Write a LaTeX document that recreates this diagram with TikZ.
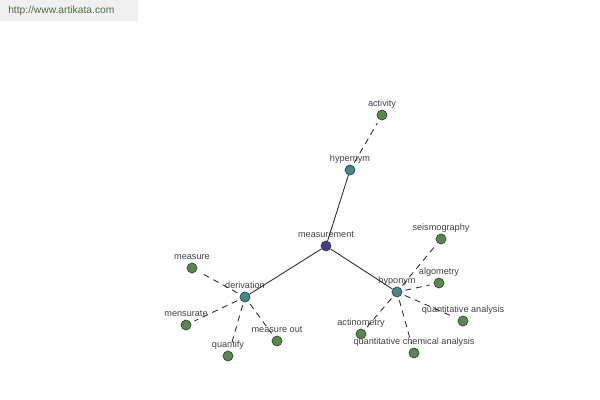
\documentclass[tikz,border=0pt]{standalone}
\usepackage{fontspec}
\setmainfont{Liberation Sans}
\usetikzlibrary{positioning}
\definecolor{rootBlue}{RGB}{62,62,150}
\definecolor{relTeal}{RGB}{60,138,138}
\definecolor{wordGreen}{RGB}{82,140,72}
\definecolor{wmGray}{RGB}{240,240,240}
\definecolor{wmText}{RGB}{78,112,62}
\tikzset{
  word/.style={circle, draw=black!75, line width=0.5pt, fill=wordGreen, minimum size=0.25cm, inner sep=0pt},
  root/.style={word, fill=rootBlue},
  rel/.style={word, fill=relTeal},
  every label/.style={font=\fontsize{6.5}{7}\selectfont, text=black!75, inner sep=0pt, text depth=0pt},
  link/.style={line width=0.6pt, color=black!85},
  sub/.style={line width=0.6pt, color=black!85, dash pattern=on 0.15cm off 0.12cm, shorten <=0.08cm, shorten >=0.1cm},
  mark box/.style={fill=wmGray, anchor=north west, minimum width=3.45cm, minimum height=0.52cm, text width=3.05cm, align=left, inner xsep=0.2cm, font=\fontsize{7.3}{8}\selectfont, text=wmText}
}

\begin{document}
\begin{tikzpicture}[x=0.025cm, y=-0.025cm, label distance=0.06cm]
  \useasboundingbox (0,0) rectangle (600,400);
  \node[mark box] (site) at (0,0) {http://www.artikata.com};

  \node[root, label=above:measurement] (measurement) at (326,246) {};
  \node[rel, label=above:hypernym] (hypernym) at (350,170) {};
  \node[rel, label=above:derivation] (derivation) at (245,297) {};
  \node[rel, label=above:hyponym] (hyponym) at (397,292) {};

  \node[word, label=above:activity] (activity) at (382,115) {};
  \node[word, label=above:measure] (measure) at (192,268) {};
  \node[word, label=above:mensurate] (mensurate) at (186,325) {};
  \node[word, label=above:quantify] (quantify) at (228,356) {};
  \node[word, label=above:measure out] (measureout) at (277,341) {};
  \node[word, label=above:seismography] (seismography) at (441,239) {};
  \node[word, label=above:algometry] (algometry) at (439,283) {};
  \node[word, label=above:quantitative analysis] (qanalysis) at (463,321) {};
  \node[word, label=above:actinometry] (actinometry) at (361,334) {};
  \node[word, label=above:quantitative chemical analysis] (qchem) at (414,353) {};

  \draw[link] (measurement) -- (hypernym);
  \draw[link] (measurement) -- (derivation);
  \draw[link] (measurement) -- (hyponym);
  \draw[sub] (hypernym) -- (activity);
  \draw[sub] (derivation) -- (measure);
  \draw[sub] (derivation) -- (mensurate);
  \draw[sub] (derivation) -- (quantify);
  \draw[sub] (derivation) -- (measureout);
  \draw[sub] (hyponym) -- (seismography);
  \draw[sub] (hyponym) -- (algometry);
  \draw[sub] (hyponym) -- (qanalysis);
  \draw[sub] (hyponym) -- (actinometry);
  \draw[sub] (hyponym) -- (qchem);
\end{tikzpicture}
\end{document}
